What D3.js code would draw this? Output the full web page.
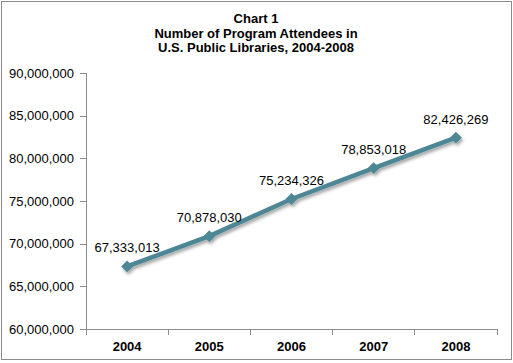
<!DOCTYPE html>
<html>
<head>
<meta charset="utf-8">
<script src="https://cdn.jsdelivr.net/npm/d3@7"></script>
<style>
  body { margin: 0; background: #fff; }
  svg { display: block; }
</style>
</head>
<body>
<svg id="chart" width="513" height="363"></svg>
<script>
var years = ["2004", "2005", "2006", "2007", "2008"];
var attendees = [67333013, 70878030, 75234326, 78853018, 82426269];
var yTicks = [60000000, 65000000, 70000000, 75000000, 80000000, 85000000, 90000000];
var titleLines = ["Chart 1", "Number of Program Attendees in", "U.S. Public Libraries, 2004-2008"];

var svg = d3.select("#chart");
var font = "Arial, 'Liberation Sans', sans-serif";
var LINE_COLOR = "#4e8796";

svg.append("rect")
    .attr("x", 1.5).attr("y", 1.5)
    .attr("width", 510).attr("height", 358)
    .attr("fill", "#fff")
    .attr("stroke", "#8c8c8c")
    .attr("stroke-width", 1);

var defs = svg.append("defs");
var shadow = defs.append("filter").attr("id", "shadow")
    .attr("x", "-50%").attr("y", "-50%").attr("width", "200%").attr("height", "200%");
shadow.append("feDropShadow")
    .attr("dx", 1.5).attr("dy", 2.5).attr("stdDeviation", 1.8)
    .attr("flood-color", "#000").attr("flood-opacity", 0.35);

var plotLeft = 86, plotRight = 497, plotTop = 73, plotBottom = 329;

var x = d3.scaleBand().domain(years).range([plotLeft, plotRight]);
var y = d3.scaleLinear().domain([60000000, 90000000]).range([plotBottom, plotTop]);

// title
svg.append("text")
    .attr("font-family", font)
    .attr("font-size", "13px")
    .attr("font-weight", "bold")
    .attr("text-anchor", "middle")
    .selectAll("tspan")
    .data(titleLines)
    .enter().append("tspan")
    .attr("x", 256)
    .attr("y", function(d, i) { return 23 + i * 14.5; })
    .text(function(d) { return d; });

// y axis
var yAxis = svg.append("g")
    .attr("transform", "translate(" + plotLeft + ",0)")
    .call(d3.axisLeft(y).tickValues(yTicks).tickSize(6).tickPadding(6)
        .tickFormat(d3.format(",")));
yAxis.selectAll("path, line").attr("stroke", "#8c8c8c").attr("shape-rendering", "crispEdges");
yAxis.select(".domain").attr("d", "M0," + plotTop + "V" + plotBottom);
yAxis.selectAll("text")
    .attr("font-family", font)
    .attr("font-size", "13px")
    .attr("fill", "#000");

// x axis with ticks at category boundaries
var xAxis = svg.append("g")
    .attr("transform", "translate(0," + plotBottom + ")")
    .call(d3.axisBottom(x).tickSize(0).tickPadding(13));
xAxis.select(".domain").attr("stroke", "#8c8c8c").attr("d", "M" + plotLeft + ",0H" + plotRight)
    .attr("shape-rendering", "crispEdges");
xAxis.selectAll("text")
    .attr("font-family", font)
    .attr("font-size", "13px")
    .attr("font-weight", "bold")
    .attr("fill", "#000");
xAxis.selectAll(".edge")
    .data(years.concat(["end"]))
    .enter().append("line")
    .attr("class", "edge")
    .attr("x1", function(d, i) { return i < years.length ? x(d) : plotRight; })
    .attr("x2", function(d, i) { return i < years.length ? x(d) : plotRight; })
    .attr("y1", 0).attr("y2", 6)
    .attr("stroke", "#8c8c8c")
    .attr("shape-rendering", "crispEdges");

var cx = function(d, i) { return x(years[i]) + x.bandwidth() / 2; };

// line
var line = d3.line()
    .x(function(d, i) { return cx(d, i); })
    .y(function(d) { return y(d); });

var plot = svg.append("g").attr("filter", "url(#shadow)");
plot.append("path")
    .datum(attendees)
    .attr("d", line)
    .attr("fill", "none")
    .attr("stroke", LINE_COLOR)
    .attr("stroke-width", 4.5)
    .attr("stroke-linejoin", "round");

plot.selectAll(".marker")
    .data(attendees)
    .enter().append("path")
    .attr("class", "marker")
    .attr("d", d3.symbol().type(d3.symbolDiamond2).size(90))
    .attr("transform", function(d, i) { return "translate(" + cx(d, i) + "," + y(d) + ")"; })
    .attr("fill", LINE_COLOR);

// data labels
svg.selectAll(".label")
    .data(attendees)
    .enter().append("text")
    .attr("class", "label")
    .attr("x", function(d, i) { return cx(d, i); })
    .attr("y", function(d) { return y(d) - 14; })
    .attr("text-anchor", "middle")
    .attr("font-family", font)
    .attr("font-size", "13px")
    .attr("fill", "#000")
    .text(function(d) { return d3.format(",")(d); });
</script>
</body>
</html>
